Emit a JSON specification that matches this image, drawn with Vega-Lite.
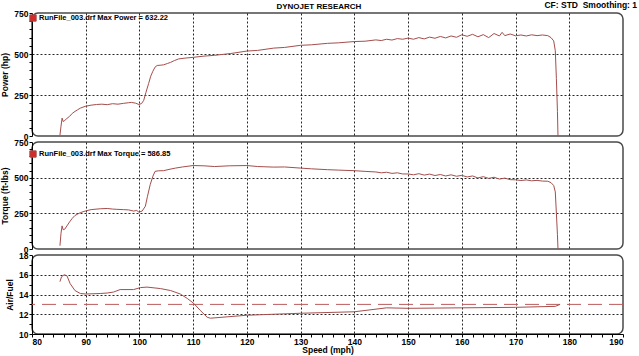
{
  "$schema": "https://vega.github.io/schema/vega-lite/v6.json",
  "padding": {"left": 0, "top": 0, "right": 0, "bottom": 0},
  "background": "white",
  "title": {"text": "DYNOJET RESEARCH", "fontSize": 8, "font": "Liberation Sans", "fontWeight": "bold", "anchor": "middle", "offset": -11, "color": "#000"},
  "config": {
    "font": "Liberation Sans",
    "view": {"stroke": "#4a4a4a", "strokeWidth": 1.5, "cornerRadius": 6},
    "axis": {"labelFont": "Liberation Sans", "labelFontWeight": "bold", "labelFontSize": 8.5, "labelColor": "#000", "titleFont": "Liberation Sans", "titleFontWeight": "bold", "titleFontSize": 8.5, "titleColor": "#000", "domainColor": "#000", "tickColor": "#000", "tickSize": 3, "labelPadding": 1, "gridColor": "#000", "gridDash": [2, 2], "gridWidth": 1, "labelOverlap": false, "titlePadding": 4}
  },
  "datasets": {
    "power": [
      {"speed": 85.2, "hp": 5}, {"speed": 85.4, "hp": 60}, {"speed": 85.6, "hp": 109}, {"speed": 85.8, "hp": 88}, {"speed": 86.1, "hp": 95}, {"speed": 86.5, "hp": 107}, {"speed": 87.0, "hp": 120}, {"speed": 87.5, "hp": 138}, {"speed": 88.0, "hp": 150}, {"speed": 88.5, "hp": 160}, {"speed": 89.0, "hp": 170}, {"speed": 89.9, "hp": 181}, {"speed": 91, "hp": 188}, {"speed": 92, "hp": 192}, {"speed": 93, "hp": 194}, {"speed": 94, "hp": 191}, {"speed": 95, "hp": 197}, {"speed": 96, "hp": 194}, {"speed": 97, "hp": 199}, {"speed": 98, "hp": 203}, {"speed": 98.5, "hp": 205}, {"speed": 99.3, "hp": 200}, {"speed": 99.9, "hp": 192}, {"speed": 100.4, "hp": 198}, {"speed": 100.8, "hp": 218}, {"speed": 101.2, "hp": 265}, {"speed": 101.7, "hp": 319}, {"speed": 102.1, "hp": 365}, {"speed": 102.5, "hp": 395}, {"speed": 102.9, "hp": 420}, {"speed": 103.3, "hp": 430}, {"speed": 104, "hp": 432}, {"speed": 104.5, "hp": 434}, {"speed": 105.2, "hp": 442}, {"speed": 105.8, "hp": 449}, {"speed": 106.5, "hp": 460}, {"speed": 107.3, "hp": 470}, {"speed": 108.5, "hp": 475}, {"speed": 110.1, "hp": 480}, {"speed": 112, "hp": 487}, {"speed": 114, "hp": 492}, {"speed": 117, "hp": 503}, {"speed": 120, "hp": 518}, {"speed": 122, "hp": 522}, {"speed": 125, "hp": 536}, {"speed": 127, "hp": 540}, {"speed": 130, "hp": 553}, {"speed": 132, "hp": 556}, {"speed": 135, "hp": 565}, {"speed": 137, "hp": 568}, {"speed": 140, "hp": 576}, {"speed": 142, "hp": 578}, {"speed": 144, "hp": 586}, {"speed": 145, "hp": 582}, {"speed": 146, "hp": 590}, {"speed": 147, "hp": 585}, {"speed": 148, "hp": 594}, {"speed": 149, "hp": 590},
      {"speed": 150, "hp": 597}, {"speed": 151, "hp": 590}, {"speed": 152, "hp": 600}, {"speed": 153, "hp": 592}, {"speed": 154, "hp": 603}, {"speed": 155, "hp": 596}, {"speed": 156, "hp": 607}, {"speed": 157, "hp": 598}, {"speed": 158, "hp": 610}, {"speed": 159, "hp": 602}, {"speed": 160, "hp": 617}, {"speed": 161, "hp": 608}, {"speed": 162, "hp": 620}, {"speed": 163, "hp": 605}, {"speed": 164, "hp": 618}, {"speed": 165, "hp": 600}, {"speed": 166, "hp": 625}, {"speed": 167, "hp": 610}, {"speed": 167.5, "hp": 632}, {"speed": 168, "hp": 612}, {"speed": 169, "hp": 622}, {"speed": 170, "hp": 611}, {"speed": 171, "hp": 616}, {"speed": 172, "hp": 610}, {"speed": 173, "hp": 617}, {"speed": 174, "hp": 612}, {"speed": 175, "hp": 616}, {"speed": 176, "hp": 612}, {"speed": 176.6, "hp": 600}, {"speed": 177.1, "hp": 580}, {"speed": 177.4, "hp": 520}, {"speed": 177.6, "hp": 350}, {"speed": 177.8, "hp": 150}, {"speed": 177.9, "hp": 0}
    ],
    "torque": [
      {"speed": 85.2, "tq": 23}, {"speed": 85.4, "tq": 110}, {"speed": 85.6, "tq": 162}, {"speed": 85.8, "tq": 135}, {"speed": 86.1, "tq": 139}, {"speed": 86.5, "tq": 162}, {"speed": 87.0, "tq": 190}, {"speed": 87.5, "tq": 215}, {"speed": 88.0, "tq": 235}, {"speed": 88.4, "tq": 243}, {"speed": 89.0, "tq": 255}, {"speed": 89.9, "tq": 266}, {"speed": 91, "tq": 276}, {"speed": 92.7, "tq": 282}, {"speed": 94, "tq": 284}, {"speed": 95, "tq": 280}, {"speed": 95.8, "tq": 278}, {"speed": 97, "tq": 276}, {"speed": 98, "tq": 274}, {"speed": 98.9, "tq": 266}, {"speed": 99.5, "tq": 270}, {"speed": 99.9, "tq": 258}, {"speed": 100.5, "tq": 266}, {"speed": 101.1, "tq": 300}, {"speed": 101.5, "tq": 370}, {"speed": 102, "tq": 451}, {"speed": 102.5, "tq": 510}, {"speed": 102.9, "tq": 544}, {"speed": 103.5, "tq": 548}, {"speed": 104.5, "tq": 549}, {"speed": 105.5, "tq": 558}, {"speed": 106.7, "tq": 567}, {"speed": 108, "tq": 575}, {"speed": 110, "tq": 585}, {"speed": 112, "tq": 583}, {"speed": 114, "tq": 578}, {"speed": 116.7, "tq": 583}, {"speed": 120, "tq": 585}, {"speed": 122, "tq": 578}, {"speed": 125, "tq": 574}, {"speed": 127, "tq": 575}, {"speed": 130, "tq": 567}, {"speed": 132, "tq": 562}, {"speed": 135, "tq": 556}, {"speed": 137, "tq": 553}, {"speed": 140, "tq": 549}, {"speed": 142, "tq": 544}, {"speed": 144, "tq": 540}, {"speed": 145, "tq": 534}, {"speed": 146, "tq": 538}, {"speed": 147, "tq": 530}, {"speed": 148, "tq": 534}, {"speed": 149, "tq": 526},
      {"speed": 150, "tq": 526}, {"speed": 151, "tq": 520}, {"speed": 152, "tq": 528}, {"speed": 153, "tq": 518}, {"speed": 154, "tq": 525}, {"speed": 155, "tq": 515}, {"speed": 156, "tq": 522}, {"speed": 157, "tq": 512}, {"speed": 158, "tq": 520}, {"speed": 159, "tq": 510}, {"speed": 160, "tq": 516}, {"speed": 161, "tq": 505}, {"speed": 162, "tq": 512}, {"speed": 163, "tq": 498}, {"speed": 164, "tq": 507}, {"speed": 165, "tq": 495}, {"speed": 166, "tq": 503}, {"speed": 167, "tq": 490}, {"speed": 168, "tq": 497}, {"speed": 169, "tq": 486}, {"speed": 170, "tq": 485}, {"speed": 171, "tq": 480}, {"speed": 172, "tq": 484}, {"speed": 173, "tq": 478}, {"speed": 174, "tq": 481}, {"speed": 175, "tq": 476}, {"speed": 176, "tq": 475}, {"speed": 176.6, "tq": 465}, {"speed": 177.1, "tq": 445}, {"speed": 177.4, "tq": 400}, {"speed": 177.6, "tq": 250}, {"speed": 177.8, "tq": 100}, {"speed": 177.9, "tq": 0}
    ],
    "afr": [
      {"speed": 85.2, "af": 15.3}, {"speed": 85.5, "af": 15.8}, {"speed": 86, "af": 16.0}, {"speed": 86.5, "af": 15.9}, {"speed": 87.1, "af": 15.1}, {"speed": 88, "af": 14.4}, {"speed": 89, "af": 14.1}, {"speed": 90, "af": 14.05}, {"speed": 92.7, "af": 14.1}, {"speed": 94, "af": 14.15}, {"speed": 95.2, "af": 14.25}, {"speed": 96.4, "af": 14.5}, {"speed": 98.9, "af": 14.5}, {"speed": 100.2, "af": 14.7}, {"speed": 101.4, "af": 14.75}, {"speed": 103.9, "af": 14.6}, {"speed": 105.8, "af": 14.4}, {"speed": 107.6, "af": 14.05}, {"speed": 108.9, "af": 13.6}, {"speed": 110.1, "af": 13.1}, {"speed": 111.3, "af": 12.4}, {"speed": 112.6, "af": 11.7}, {"speed": 113.2, "af": 11.6}, {"speed": 120, "af": 11.9}, {"speed": 130, "af": 12.1}, {"speed": 140, "af": 12.25}, {"speed": 146, "af": 12.65}, {"speed": 150, "af": 12.6}, {"speed": 160, "af": 12.65}, {"speed": 170, "af": 12.7}, {"speed": 177.4, "af": 12.8}, {"speed": 178.3, "af": 13.0}
    ],
    "target": [{"af": 13}],
    "note": [{"speed": 190, "hp": 750, "t": "CF: STD\u00a0 Smoothing: 1"}]
  },
  "resolve": {"scale": {"color": "independent"}, "legend": {"color": "independent"}},
  "bounds": "flush",
  "spacing": 6,
  "vconcat": [
    {
      "width": 591,
      "height": 123,
      "layer": [
        {
          "data": {"name": "power"},
          "mark": {"type": "line", "strokeWidth": 1},
          "encoding": {
            "x": {"field": "speed", "type": "quantitative", "scale": {"domain": [80, 190], "nice": false}, "axis": {"values": [80, 90, 100, 110, 120, 130, 140, 150, 160, 170, 180, 190], "labels": false, "ticks": false, "domain": false, "title": null, "gridOpacity": {"condition": {"test": "datum.value > 80 && datum.value < 190", "value": 0.85}, "value": 0}}},
            "y": {"field": "hp", "type": "quantitative", "scale": {"domain": [0, 750], "nice": false}, "axis": {"title": "Power (hp)", "values": [0, 50, 100, 150, 200, 250, 300, 350, 400, 450, 500, 550, 600, 650, 700, 750], "labelExpr": "datum.value % 250 == 0 ? datum.label : ''", "gridOpacity": {"condition": {"test": "datum.value == 250 || datum.value == 500", "value": 0.85}, "value": 0}}},
            "color": {"datum": "RunFile_003.drf Max Power = 632.22", "scale": {"range": ["#a44e4c"]}, "legend": {"orient": "none", "legendX": -3, "legendY": 1, "padding": 0, "title": null, "symbolType": "square", "symbolSize": 40, "labelFontSize": 7.5, "labelFontWeight": "bold", "labelFont": "Liberation Sans", "labelColor": "#000", "labelOffset": 2, "encode": {"symbols": {"update": {"fill": {"value": "#d42a2a"}, "stroke": {"value": "#6a1010"}, "strokeWidth": {"value": 1}, "opacity": {"value": 1}}}}}}
          }
        },
        {
          "data": {"name": "note"},
          "mark": {"type": "text", "align": "right", "baseline": "bottom", "dx": 14, "dy": -3, "fontSize": 8.5, "fontWeight": "bold", "font": "Liberation Sans", "color": "#000"},
          "encoding": {
            "x": {"field": "speed", "type": "quantitative", "scale": {"domain": [80, 190], "nice": false}, "axis": {"values": [80, 90, 100, 110, 120, 130, 140, 150, 160, 170, 180, 190], "labels": false, "ticks": false, "domain": false, "title": null, "gridOpacity": {"condition": {"test": "datum.value > 80 && datum.value < 190", "value": 0.85}, "value": 0}}},
            "y": {"field": "hp", "type": "quantitative", "scale": {"domain": [0, 750], "nice": false}, "axis": {"title": "Power (hp)", "values": [0, 50, 100, 150, 200, 250, 300, 350, 400, 450, 500, 550, 600, 650, 700, 750], "labelExpr": "datum.value % 250 == 0 ? datum.label : ''", "gridOpacity": {"condition": {"test": "datum.value == 250 || datum.value == 500", "value": 0.85}, "value": 0}}},
            "text": {"field": "t"}
          }
        }
      ]
    },
    {
      "width": 591,
      "height": 107,
      "data": {"name": "torque"},
      "mark": {"type": "line", "strokeWidth": 1},
      "encoding": {
        "x": {"field": "speed", "type": "quantitative", "scale": {"domain": [80, 190], "nice": false}, "axis": {"values": [80, 90, 100, 110, 120, 130, 140, 150, 160, 170, 180, 190], "labels": false, "ticks": false, "domain": false, "title": null, "gridOpacity": {"condition": {"test": "datum.value > 80 && datum.value < 190", "value": 0.85}, "value": 0}}},
        "y": {"field": "tq", "type": "quantitative", "scale": {"domain": [0, 750], "nice": false}, "axis": {"title": "Torque (ft-lbs)", "values": [0, 50, 100, 150, 200, 250, 300, 350, 400, 450, 500, 550, 600, 650, 700, 750], "labelExpr": "datum.value % 250 == 0 ? datum.label : ''", "gridOpacity": {"condition": {"test": "datum.value == 250 || datum.value == 500", "value": 0.85}, "value": 0}}},
        "color": {"datum": "RunFile_003.drf Max Torque = 586.85", "scale": {"range": ["#a44e4c"]}, "legend": {"orient": "none", "legendX": -3, "legendY": 8, "padding": 0, "title": null, "symbolType": "square", "symbolSize": 40, "labelFontSize": 7.5, "labelFontWeight": "bold", "labelFont": "Liberation Sans", "labelColor": "#000", "labelOffset": 2, "encode": {"symbols": {"update": {"fill": {"value": "#d42a2a"}, "stroke": {"value": "#6a1010"}, "strokeWidth": {"value": 1}, "opacity": {"value": 1}}}}}}
      }
    },
    {
      "width": 591,
      "height": 79,
      "layer": [
        {
          "data": {"name": "target"},
          "mark": {"type": "rule", "color": "#bb5a5a", "strokeWidth": 1, "strokeDash": [14, 7]},
          "encoding": {
            "y": {"field": "af", "type": "quantitative", "scale": {"domain": [10, 18], "nice": false, "zero": false}, "axis": {"title": "Air/Fuel", "format": "d", "values": [10, 10.5, 11, 11.5, 12, 12.5, 13, 13.5, 14, 14.5, 15, 15.5, 16, 16.5, 17, 17.5, 18], "labelExpr": "datum.value % 2 == 0 ? datum.label : ''", "gridOpacity": {"condition": {"test": "datum.value == 12 || datum.value == 14 || datum.value == 16", "value": 0.85}, "value": 0}}}
          }
        },
        {
          "data": {"name": "afr"},
          "mark": {"type": "line", "strokeWidth": 1, "color": "#a44e4c"},
          "encoding": {
            "x": {"field": "speed", "type": "quantitative", "scale": {"domain": [80, 190], "nice": false}, "axis": {"title": "Speed (mph)", "titlePadding": 0, "values": [80, 82, 84, 86, 88, 90, 92, 94, 96, 98, 100, 102, 104, 106, 108, 110, 112, 114, 116, 118, 120, 122, 124, 126, 128, 130, 132, 134, 136, 138, 140, 142, 144, 146, 148, 150, 152, 154, 156, 158, 160, 162, 164, 166, 168, 170, 172, 174, 176, 178, 180, 182, 184, 186, 188, 190], "labelExpr": "datum.value % 10 == 0 ? datum.label : ''", "labelPadding": 0, "tickSize": 3, "gridOpacity": {"condition": {"test": "datum.value % 10 == 0 && datum.value > 80 && datum.value < 190", "value": 0.85}, "value": 0}}},
            "y": {"field": "af", "type": "quantitative", "scale": {"domain": [10, 18], "nice": false, "zero": false}, "axis": {"title": "Air/Fuel", "format": "d", "values": [10, 10.5, 11, 11.5, 12, 12.5, 13, 13.5, 14, 14.5, 15, 15.5, 16, 16.5, 17, 17.5, 18], "labelExpr": "datum.value % 2 == 0 ? datum.label : ''", "gridOpacity": {"condition": {"test": "datum.value == 12 || datum.value == 14 || datum.value == 16", "value": 0.85}, "value": 0}}}
          }
        }
      ]
    }
  ]
}
